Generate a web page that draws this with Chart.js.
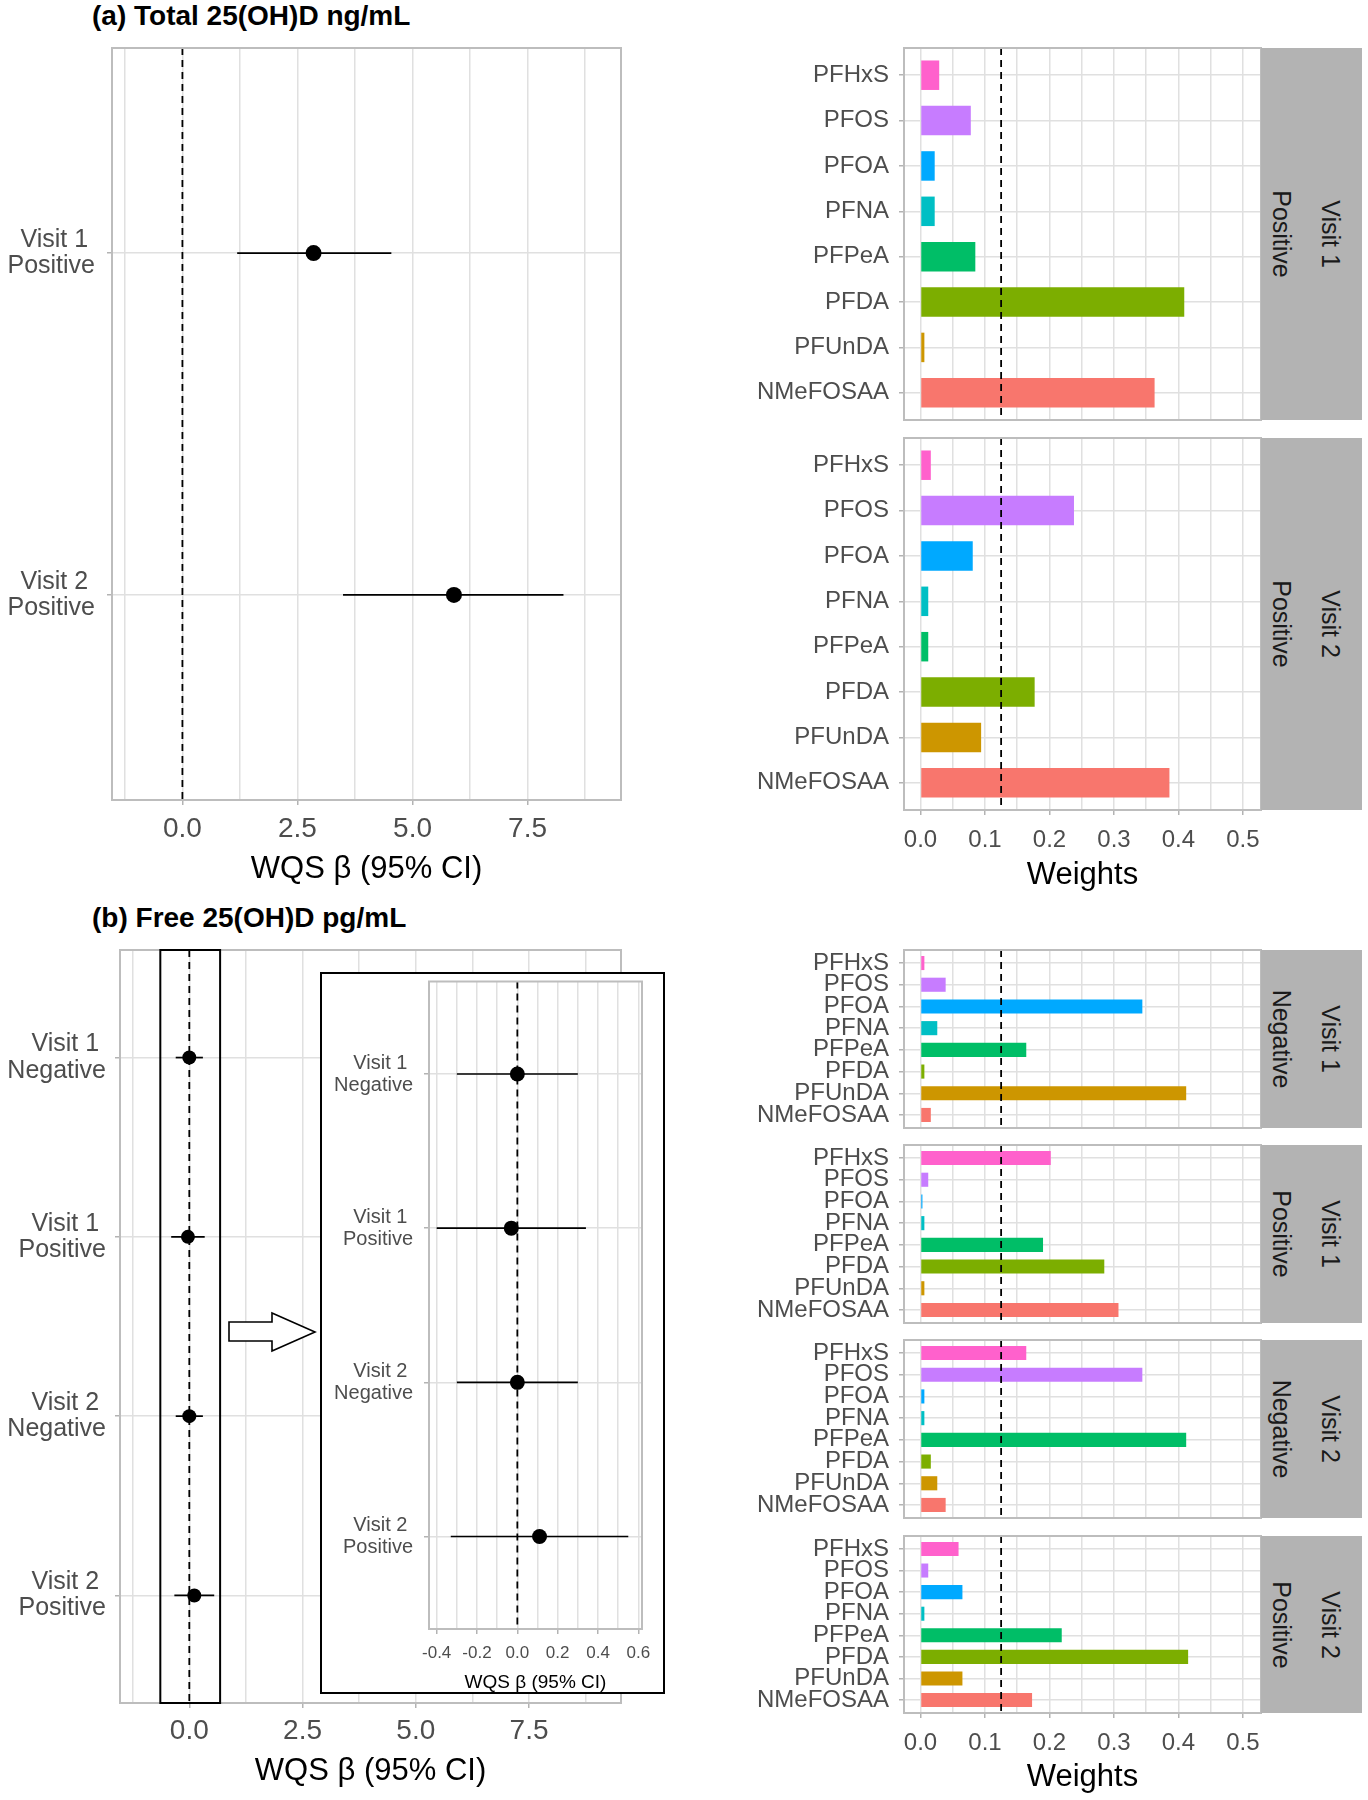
<!DOCTYPE html>
<html>
<head>
<meta charset="utf-8">
<script src="https://cdn.jsdelivr.net/npm/chart.js@4.4.0/dist/chart.umd.min.js"></script>
<style>
  body { margin: 0; background: #fff; }
  #fig { position: relative; width: 1368px; height: 1800px; background: #fff; font-family: "Liberation Sans", Arial, sans-serif; overflow: hidden; }
  #fig canvas { position: absolute; }
  .ptitle { position: absolute; left: 92px; font-size: 28px; font-weight: bold; line-height: 32px; color: #000; white-space: nowrap; }
  .strip { position: absolute; left: 1261px; width: 101px; background: #b3b3b3; }
  .strip span { position: absolute; top: 50%; transform: translate(-50%, -50%); writing-mode: vertical-rl; white-space: nowrap; font-size: 25px; line-height: 28px; color: #1a1a1a; }
  #inset { position: absolute; left: 320px; top: 972px; width: 341px; height: 718px; border: 2px solid #000; background: #fff; }
</style>
</head>
<body>
<div id="fig">
  <div class="ptitle" style="top:0px">(a) Total 25(OH)D ng/mL</div>
  <div class="ptitle" style="top:902px">(b) Free 25(OH)D pg/mL</div>
</div>
<script>
// PFAS order top -> bottom and ggplot hue colours
const pfas = ['PFHxS', 'PFOS', 'PFOA', 'PFNA', 'PFPeA', 'PFDA', 'PFUnDA', 'NMeFOSAA'];
const pfasColors = ['#FF61CC', '#C77CFF', '#00A9FF', '#00BFC4', '#00BE67', '#7CAE00', '#CD9600', '#F8766D'];

// (a) total 25(OH)D, WQS beta and 95% CI
const totalLabels = [['Visit 1 ', 'Positive'], ['Visit 2 ', 'Positive']];
const totalBeta = [2.85, 5.90];
const totalLow = [1.19, 3.49];
const totalHigh = [4.54, 8.28];

// (b) free 25(OH)D
const freeLabels = [['Visit 1 ', 'Negative'], ['Visit 1 ', 'Positive'], ['Visit 2 ', 'Negative'], ['Visit 2 ', 'Positive']];
const freeBeta = [0.00, -0.03, 0.00, 0.11];
const freeLow = [-0.30, -0.40, -0.30, -0.33];
const freeHigh = [0.30, 0.34, 0.30, 0.55];

// weights per facet (same order as pfas)
const wTotalV1Pos = [0.029, 0.078, 0.022, 0.022, 0.085, 0.409, 0.006, 0.363];
const wTotalV2Pos = [0.016, 0.238, 0.081, 0.012, 0.012, 0.177, 0.094, 0.386];
const wFreeV1Neg = [0.006, 0.039, 0.344, 0.026, 0.164, 0.006, 0.412, 0.016];
const wFreeV1Pos = [0.202, 0.012, 0.003, 0.006, 0.190, 0.285, 0.006, 0.307];
const wFreeV2Neg = [0.164, 0.344, 0.006, 0.006, 0.412, 0.016, 0.026, 0.039];
const wFreeV2Pos = [0.059, 0.012, 0.065, 0.006, 0.219, 0.415, 0.065, 0.173];

// axis ticks / grid lines
const betaGrid = [-1.25, 0, 1.25, 2.5, 3.75, 5, 6.25, 7.5, 8.75];
const insetGrid = [-0.4, -0.3, -0.2, -0.1, 0, 0.1, 0.2, 0.3, 0.4, 0.5, 0.6];
const weightGrid = [0, 0.05, 0.1, 0.15, 0.2, 0.25, 0.3, 0.35, 0.4, 0.45, 0.5];
const weightCut = 0.125;

Chart.defaults.font.family = '"Liberation Sans", Arial, sans-serif';

const fig = document.getElementById('fig');
const gridColor = '#e0e0e0';
const tickColor = '#b3b3b3';
const labelColor = '#4d4d4d';

function isMajor(v, step) {
    return Math.abs(v / step - Math.round(v / step)) < 1e-6;
}

// canvas box {l,t,w,h} and wanted plot area {left,top,right,bottom}, page coords
function place(box) {
    const c = document.createElement('canvas');
    c.width = box.w;
    c.height = box.h;
    c.style.left = box.l + 'px';
    c.style.top = box.t + 'px';
    fig.appendChild(c);
    return c;
}

function frame(box, area) {
    return {
        padding: { left: 0, top: area.top - box.t, right: box.l + box.w - area.right, bottom: 0 },
        yWidth: area.left - box.l,
        xHeight: box.t + box.h - area.bottom
    };
}

// keep the plot area where we put it: no extra room for overhanging labels
function fixSize(ax, key, size) {
    ax[key] = size;
    ax.paddingTop = 0;
    ax.paddingBottom = 0;
    ax.paddingLeft = 0;
    ax.paddingRight = 0;
}

// panel border, dashed reference line, zoom box
const panelDecor = {
    id: 'panelDecor',
    afterDatasetsDraw(chart, args, opts) {
        const { ctx, chartArea: a } = chart;
        const x = chart.scales.x;
        ctx.save();
        if (opts.refX !== undefined) {
            const px = x.getPixelForValue(opts.refX);
            ctx.setLineDash([7, 5]);
            ctx.strokeStyle = '#000';
            ctx.lineWidth = 1.8;
            ctx.beginPath();
            ctx.moveTo(px, a.top);
            ctx.lineTo(px, a.bottom);
            ctx.stroke();
            ctx.setLineDash([]);
        }
        ctx.strokeStyle = '#bdbdbd';
        ctx.lineWidth = 2;
        ctx.strokeRect(a.left, a.top, a.right - a.left, a.bottom - a.top);
        if (opts.zoomBox) {
            const x0 = x.getPixelForValue(opts.zoomBox[0]);
            const x1 = x.getPixelForValue(opts.zoomBox[1]);
            ctx.strokeStyle = '#000';
            ctx.lineWidth = 2;
            ctx.strokeRect(x0, a.top, x1 - x0, a.bottom - a.top);
        }
        ctx.restore();
    }
};

function xAxis(f, area, box, s) {
    const tl = s.showTicks ? 5 : 0;
    return {
        type: 'linear', min: s.min, max: s.max, offset: false,
        afterBuildTicks: ax => { ax.ticks = s.grid.map(v => ({ value: v })); },
        afterFit: ax => fixSize(ax, 'height', f.xHeight),
        grid: {
            offset: false,
            color: gridColor, lineWidth: 1.5, drawTicks: s.showTicks, tickLength: tl, tickWidth: 1.5,
            tickColor: c => (c.tick && isMajor(c.tick.value, s.step)) ? tickColor : 'rgba(0,0,0,0)'
        },
        border: { display: false },
        ticks: {
            display: s.showTicks, autoSkip: false, maxRotation: 0, minRotation: 0,
            color: labelColor, font: { size: s.tickSize, lineHeight: 1.2 },
            padding: s.showTicks ? s.tickCenter - area.bottom - tl - 0.6 * s.tickSize : 0,
            callback: v => isMajor(v, s.step) ? v.toFixed(1) : ''
        },
        title: {
            display: !!s.title, text: s.title, color: '#000',
            font: { size: s.titleSize, lineHeight: 1.2 },
            padding: { top: 0, bottom: s.title ? Math.max(0, box.t + box.h - s.titleCenter - 0.6 * s.titleSize) : 0 }
        }
    };
}

function yAxis(f, area, labels, s) {
    const tl = 5;
    return {
        type: 'linear', reverse: true, min: 0.4, max: labels.length + 0.6, offset: false,
        afterBuildTicks: ax => { ax.ticks = labels.map((_, i) => ({ value: i + 1 })); },
        afterFit: ax => fixSize(ax, 'width', f.yWidth),
        grid: { offset: false, color: gridColor, lineWidth: 1.5, tickLength: tl, tickWidth: 1.5, tickColor: tickColor },
        border: { display: false },
        ticks: {
            autoSkip: false, color: labelColor,
            font: { size: s.labSize, lineHeight: s.labLH },
            padding: area.left - s.labRight - tl,
            callback: v => labels[Math.round(v) - 1]
        }
    };
}

function drawForest(box, area, labels, beta, low, high, s) {
    const f = frame(box, area);
    const datasets = low.map((lo, i) => ({
        data: [{ x: lo, y: i + 1 }, { x: high[i], y: i + 1 }],
        showLine: true, borderColor: '#000', borderWidth: 1.7, pointRadius: 0
    }));
    datasets.push({
        data: beta.map((b, i) => ({ x: b, y: i + 1 })),
        pointRadius: s.radius, backgroundColor: '#000', borderColor: '#000', borderWidth: 0
    });
    return new Chart(place(box), {
        type: 'scatter',
        data: { datasets: datasets },
        plugins: [panelDecor],
        options: {
            responsive: false, animation: false, events: [], devicePixelRatio: 1,
            layout: { padding: f.padding },
            plugins: {
                legend: { display: false }, tooltip: { enabled: false },
                panelDecor: { refX: 0, zoomBox: s.zoomBox }
            },
            scales: {
                x: xAxis(f, area, box, s.x),
                y: yAxis(f, area, labels, s.y)
            }
        }
    });
}

function drawWeights(box, area, weights, s) {
    const f = frame(box, area);
    const chart = new Chart(place(box), {
        type: 'bar',
        data: {
            datasets: [{
                data: weights.map((w, i) => ({ x: w, y: i + 1 })),
                backgroundColor: pfasColors,
                borderWidth: 0,
                barPercentage: 0.65,
                categoryPercentage: 1
            }]
        },
        plugins: [panelDecor],
        options: {
            indexAxis: 'y',
            responsive: false, animation: false, events: [], devicePixelRatio: 1,
            layout: { padding: f.padding },
            plugins: {
                legend: { display: false }, tooltip: { enabled: false },
                panelDecor: { refX: weightCut }
            },
            scales: {
                x: xAxis(f, area, box, {
                    min: -0.0256, max: 0.528, grid: weightGrid, step: 0.1,
                    showTicks: s.showTicks, tickSize: 24, tickCenter: s.tickCenter,
                    title: s.showTicks ? 'Weights' : '', titleSize: 31, titleCenter: s.titleCenter
                }),
                y: yAxis(f, area, pfas, { labSize: 24, labLH: 1.0, labRight: 889 })
            }
        }
    });
    const strip = document.createElement('div');
    strip.className = 'strip';
    strip.style.top = area.top + 'px';
    strip.style.height = (area.bottom - area.top) + 'px';
    strip.innerHTML = '<span style="left:70px">' + s.strip[0] + '</span><span style="left:21px">' + s.strip[1] + '</span>';
    fig.appendChild(strip);
    return chart;
}

// ---- (a) Total 25(OH)D ----
drawForest(
    { l: 0, t: 40, w: 630, h: 850 },
    { left: 112, top: 48, right: 621, bottom: 800 },
    totalLabels, totalBeta, totalLow, totalHigh,
    {
        radius: 8,
        x: { min: -1.53, max: 9.53, grid: betaGrid, step: 2.5, showTicks: true, tickSize: 28, tickCenter: 829,
             title: 'WQS β (95% CI)', titleSize: 31, titleCenter: 869 },
        y: { labSize: 25, labLH: 1.05, labRight: 95 }
    }
);

drawWeights({ l: 740, t: 40, w: 524, h: 384 }, { left: 904, top: 48, right: 1261, bottom: 420 },
    wTotalV1Pos, { showTicks: false, strip: ['Visit 1', 'Positive'] });
drawWeights({ l: 740, t: 430, w: 524, h: 470 }, { left: 904, top: 438, right: 1261, bottom: 810 },
    wTotalV2Pos, { showTicks: true, tickCenter: 840, titleCenter: 875, strip: ['Visit 2', 'Positive'] });

// ---- (b) Free 25(OH)D ----
drawForest(
    { l: 0, t: 940, w: 630, h: 855 },
    { left: 120, top: 950, right: 621, bottom: 1703 },
    freeLabels, freeBeta, freeLow, freeHigh,
    {
        radius: 7, zoomBox: [-0.64, 0.68],
        x: { min: -1.53, max: 9.53, grid: betaGrid, step: 2.5, showTicks: true, tickSize: 28, tickCenter: 1731,
             title: 'WQS β (95% CI)', titleSize: 31, titleCenter: 1771 },
        y: { labSize: 25, labLH: 1.05, labRight: 106 }
    }
);

// arrow pointing to the zoomed inset
const arrow = document.createElementNS('http://www.w3.org/2000/svg', 'svg');
arrow.setAttribute('width', '100');
arrow.setAttribute('height', '50');
arrow.style.position = 'absolute';
arrow.style.left = '225px';
arrow.style.top = '1308px';
arrow.innerHTML = '<polygon points="4,14 47,14 47,5 90,24 47,43 47,33 4,33" fill="#fff" stroke="#000" stroke-width="1.6"/>';
fig.appendChild(arrow);

// inset: zoom of the free 25(OH)D estimates
const inset = document.createElement('div');
inset.id = 'inset';
fig.appendChild(inset);
drawForest(
    { l: 322, t: 974, w: 341, h: 720 },
    { left: 429, top: 975, right: 642, bottom: 1629 },
    freeLabels, freeBeta, freeLow, freeHigh,
    {
        radius: 7.5,
        x: { min: -0.438, max: 0.618, grid: insetGrid, step: 0.2, showTicks: true, tickSize: 17, tickCenter: 1653,
             title: 'WQS β (95% CI)', titleSize: 19, titleCenter: 1683 },
        y: { labSize: 20, labLH: 1.1, labRight: 413 }
    }
);

drawWeights({ l: 740, t: 942, w: 524, h: 190 }, { left: 904, top: 950, right: 1261, bottom: 1128 },
    wFreeV1Neg, { showTicks: false, strip: ['Visit 1', 'Negative'] });
drawWeights({ l: 740, t: 1137, w: 524, h: 190 }, { left: 904, top: 1145, right: 1261, bottom: 1323 },
    wFreeV1Pos, { showTicks: false, strip: ['Visit 1', 'Positive'] });
drawWeights({ l: 740, t: 1332, w: 524, h: 190 }, { left: 904, top: 1340, right: 1261, bottom: 1518 },
    wFreeV2Neg, { showTicks: false, strip: ['Visit 2', 'Negative'] });
drawWeights({ l: 740, t: 1528, w: 524, h: 272 }, { left: 904, top: 1536, right: 1261, bottom: 1713 },
    wFreeV2Pos, { showTicks: true, tickCenter: 1743, titleCenter: 1777, strip: ['Visit 2', 'Positive'] });
</script>
</body>
</html>
